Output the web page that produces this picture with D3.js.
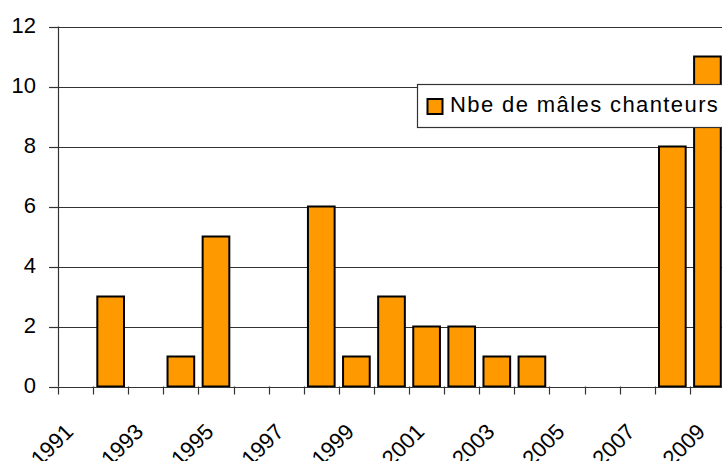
<!DOCTYPE html>
<html>
<head>
<meta charset="utf-8">
<script src="https://cdn.jsdelivr.net/npm/d3@7"></script>
<style>
  html, body { margin: 0; padding: 0; background: #fff; }
  svg { display: block; }
  text { font-family: "Liberation Sans", Arial, sans-serif; fill: #000; }
</style>
</head>
<body>
<svg id="chart" width="722" height="461"></svg>
<script>
// Singing males counted per year
const years = d3.range(1991, 2010).map(String);
const counts = [0, 3, 0, 1, 5, 0, 0, 6, 1, 3, 2, 2, 1, 1, 0, 0, 0, 8, 11];
const yTicks = [0, 2, 4, 6, 8, 10, 12];
const xTickLabels = ["1991", "1993", "1995", "1997", "1999", "2001", "2003", "2005", "2007", "2009"];
const seriesName = "Nbe de mâles chanteurs";

const svg = d3.select("#chart");
const plotLeft = 58, plotRight = 725, plotTop = 26.5, plotBottom = 386.5;
const lineColor = "#333";

const x = d3.scaleBand().domain(years).range([plotLeft, plotRight]).paddingInner(0).paddingOuter(0);
const y = d3.scaleLinear().domain([0, 12]).range([plotBottom, plotTop]);

// horizontal gridlines
svg.append("g")
  .selectAll("line")
  .data(yTicks.filter(d => d > 0))
  .join("line")
  .attr("x1", plotLeft).attr("x2", 722)
  .attr("y1", d => Math.round(y(d)) + 0.5).attr("y2", d => Math.round(y(d)) + 0.5)
  .attr("stroke", lineColor).attr("stroke-width", 1.2);

// bars
const barW = x.bandwidth() * 0.76;
svg.append("g")
  .selectAll("rect")
  .data(years.map((yr, i) => ({ yr, v: counts[i] })).filter(d => d.v > 0))
  .join("rect")
  .attr("x", d => x(d.yr) + (x.bandwidth() - barW) / 2)
  .attr("y", d => y(d.v))
  .attr("width", barW)
  .attr("height", d => y(0) - y(d.v))
  .attr("fill", "#FF9900")
  .attr("stroke", "#000")
  .attr("stroke-width", 2);

// y axis
const yAxis = svg.append("g");
yAxis.append("line")
  .attr("x1", plotLeft + 0.5).attr("x2", plotLeft + 0.5)
  .attr("y1", plotTop).attr("y2", plotBottom)
  .attr("stroke", lineColor).attr("stroke-width", 1.2);
yAxis.selectAll("line.tick")
  .data(yTicks)
  .join("line")
  .attr("class", "tick")
  .attr("x1", plotLeft - 9).attr("x2", plotLeft)
  .attr("y1", d => Math.round(y(d)) + 0.5).attr("y2", d => Math.round(y(d)) + 0.5)
  .attr("stroke", lineColor).attr("stroke-width", 1.2);
yAxis.selectAll("text")
  .data(yTicks)
  .join("text")
  .attr("x", 36)
  .attr("y", d => y(d) + 6.5)
  .attr("text-anchor", "end")
  .attr("font-size", 22)
  .text(d => d);

// x axis
const xAxis = svg.append("g");
xAxis.append("line")
  .attr("x1", plotLeft).attr("x2", 722)
  .attr("y1", Math.round(y(0)) + 0.5).attr("y2", Math.round(y(0)) + 0.5)
  .attr("stroke", lineColor).attr("stroke-width", 1.2);
xAxis.selectAll("line.tick")
  .data(years)
  .join("line")
  .attr("class", "tick")
  .attr("x1", d => Math.round(x(d)) + 0.5).attr("x2", d => Math.round(x(d)) + 0.5)
  .attr("y1", plotBottom).attr("y2", plotBottom + 8)
  .attr("stroke", lineColor).attr("stroke-width", 1.2);

// rotated year labels, end of text tucked under each category
const labelY = 433;
xAxis.selectAll("g.label")
  .data(xTickLabels)
  .join("g")
  .attr("class", "label")
  .attr("transform", d => `translate(${x(d) + x.bandwidth() / 2 - 1},${labelY})`)
  .append("text")
  .attr("text-anchor", "end")
  .attr("font-size", 22)
  .attr("transform", "rotate(-45)")
  .text(d => d);

// legend
const legend = svg.append("g");
legend.append("rect")
  .attr("x", 417.5).attr("y", 84.5)
  .attr("width", 320).attr("height", 43)
  .attr("fill", "#fff").attr("stroke", lineColor).attr("stroke-width", 1.2);
legend.append("rect")
  .attr("x", 427.5).attr("y", 99)
  .attr("width", 15).attr("height", 15)
  .attr("fill", "#FF9900").attr("stroke", "#000").attr("stroke-width", 2);
legend.append("text")
  .attr("x", 450).attr("y", 112)
  .attr("font-size", 22)
  .attr("letter-spacing", "1.4px")
  .text(seriesName);
</script>
</body>
</html>
